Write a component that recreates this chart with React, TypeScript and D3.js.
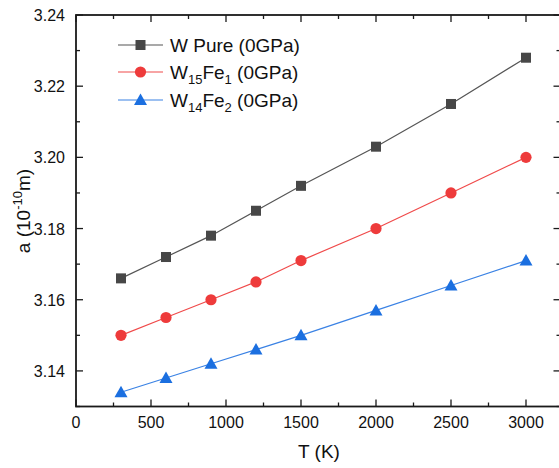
import React from 'react'
import * as d3 from 'd3'

const temps = [300, 600, 900, 1200, 1500, 2000, 2500, 3000]
const wPure = [3.166, 3.172, 3.178, 3.185, 3.192, 3.203, 3.215, 3.228]
const w15Fe1 = [3.150, 3.155, 3.160, 3.165, 3.171, 3.180, 3.190, 3.200]
const w14Fe2 = [3.134, 3.138, 3.142, 3.146, 3.150, 3.157, 3.164, 3.171]
const xMajor = [0, 500, 1000, 1500, 2000, 2500, 3000]
const yMajor = [3.14, 3.16, 3.18, 3.20, 3.22, 3.24]

const font = 'Arial, "Liberation Sans", sans-serif'

const series = [
  { key: 'pure', values: wPure, line: '#555555', fill: '#474747', shape: 'square' },
  { key: 'fe1', values: w15Fe1, line: '#f04a4a', fill: '#ee3b3b', shape: 'circle' },
  { key: 'fe2', values: w14Fe2, line: '#3a82e4', fill: '#1b6fe0', shape: 'triangle' },
]

const Marker = ({shape, x, y, fill}: {shape: string; x: number; y: number; fill: string}) => {
  if (shape === 'square') return <rect x={x - 5} y={y - 5} width={10} height={10} fill={fill} />
  if (shape === 'circle') return <circle cx={x} cy={y} r={5.6} fill={fill} />
  return <path d={`M${x},${y - 6.5} L${x + 6.5},${y + 5} L${x - 6.5},${y + 5} Z`} fill={fill} />
}

const App = () => {
  const left = 76
  const right = 560.5
  const top = 15
  const bottom = 406.5
  const x = d3.scaleLinear().domain([0, 3230]).range([left, right])
  const y = d3.scaleLinear().domain([3.13, 3.24]).range([bottom, top])
  const xMinor = d3.range(250, 3230, 500)
  const yMinor = d3.range(3.13, 3.245, 0.02)
  const line = d3.line<number>().x((d, i) => x(temps[i])).y(d => y(d))

  const legendRows = [
    { s: series[0], label: <tspan>W Pure (0GPa)</tspan> },
    {
      s: series[1],
      label: (
        <>
          <tspan>W</tspan><tspan fontSize={13} dy={5}>15</tspan>
          <tspan dy={-5}>Fe</tspan><tspan fontSize={13} dy={5}>1</tspan>
          <tspan dy={-5}> (0GPa)</tspan>
        </>
      ),
    },
    {
      s: series[2],
      label: (
        <>
          <tspan>W</tspan><tspan fontSize={13} dy={5}>14</tspan>
          <tspan dy={-5}>Fe</tspan><tspan fontSize={13} dy={5}>2</tspan>
          <tspan dy={-5}> (0GPa)</tspan>
        </>
      ),
    },
  ]
  const legendY = [45, 72, 100]

  return (
    <svg width={559} height={468} style={{position: 'absolute', left: 0, top: 0, background: '#fff'}}
      fontFamily={font}>
      <rect width={559} height={468} fill="#fff" />
      {/* ticks */}
      <g stroke="#1a1a1a" strokeWidth={1.3}>
        {xMajor.map(t => (
          <g key={'xt' + t}>
            <line x1={x(t)} x2={x(t)} y1={bottom} y2={bottom - 7} />
            <line x1={x(t)} x2={x(t)} y1={top} y2={top + 7} />
          </g>
        ))}
        {xMinor.map(t => (
          <g key={'xm' + t}>
            <line x1={x(t)} x2={x(t)} y1={bottom} y2={bottom - 4} />
            <line x1={x(t)} x2={x(t)} y1={top} y2={top + 4} />
          </g>
        ))}
        {yMajor.map(t => (
          <g key={'yt' + t}>
            <line x1={left} x2={left + 7} y1={y(t)} y2={y(t)} />
            <line x1={right} x2={right - 7} y1={y(t)} y2={y(t)} />
          </g>
        ))}
        {yMinor.map(t => (
          <g key={'ym' + t}>
            <line x1={left} x2={left + 4} y1={y(t)} y2={y(t)} />
            <line x1={right} x2={right - 4} y1={y(t)} y2={y(t)} />
          </g>
        ))}
      </g>
      <rect x={left} y={top} width={right - left} height={bottom - top} fill="none" stroke="#1a1a1a" strokeWidth={1.8} />
      {/* tick labels */}
      <g fontSize={16} fill="#111">
        {xMajor.map(t => (
          <text key={'xl' + t} x={x(t)} y={428} textAnchor="middle">{t}</text>
        ))}
        {yMajor.map(t => (
          <text key={'yl' + t} x={left - 11} y={y(t) + 6} textAnchor="end">{d3.format('.2f')(t)}</text>
        ))}
      </g>
      <text x={319} y={458} fontSize={19} textAnchor="middle" fill="#111">T (K)</text>
      <text transform={`translate(30, 211) rotate(-90)`} fontSize={19} textAnchor="middle" fill="#111">
        a (10<tspan fontSize={13} dy={-8}>-10</tspan><tspan dy={8}>m)</tspan>
      </text>
      {/* series */}
      {series.map(s => (
        <g key={s.key}>
          <path d={line(s.values) || ''} fill="none" stroke={s.line} strokeWidth={1.2} />
          {s.values.map((v, i) => (
            <Marker key={i} shape={s.shape} x={x(temps[i])} y={y(v)} fill={s.fill} />
          ))}
        </g>
      ))}
      {/* legend */}
      {legendRows.map((r, i) => (
        <g key={r.s.key}>
          <line x1={118} x2={163} y1={legendY[i]} y2={legendY[i]} stroke={r.s.line} strokeWidth={1.2} />
          <Marker shape={r.s.shape} x={140.5} y={legendY[i]} fill={r.s.fill} />
          <text x={170} y={legendY[i] + 7} fontSize={19} fill="#111">{r.label}</text>
        </g>
      ))}
    </svg>
  )
}

export default App
